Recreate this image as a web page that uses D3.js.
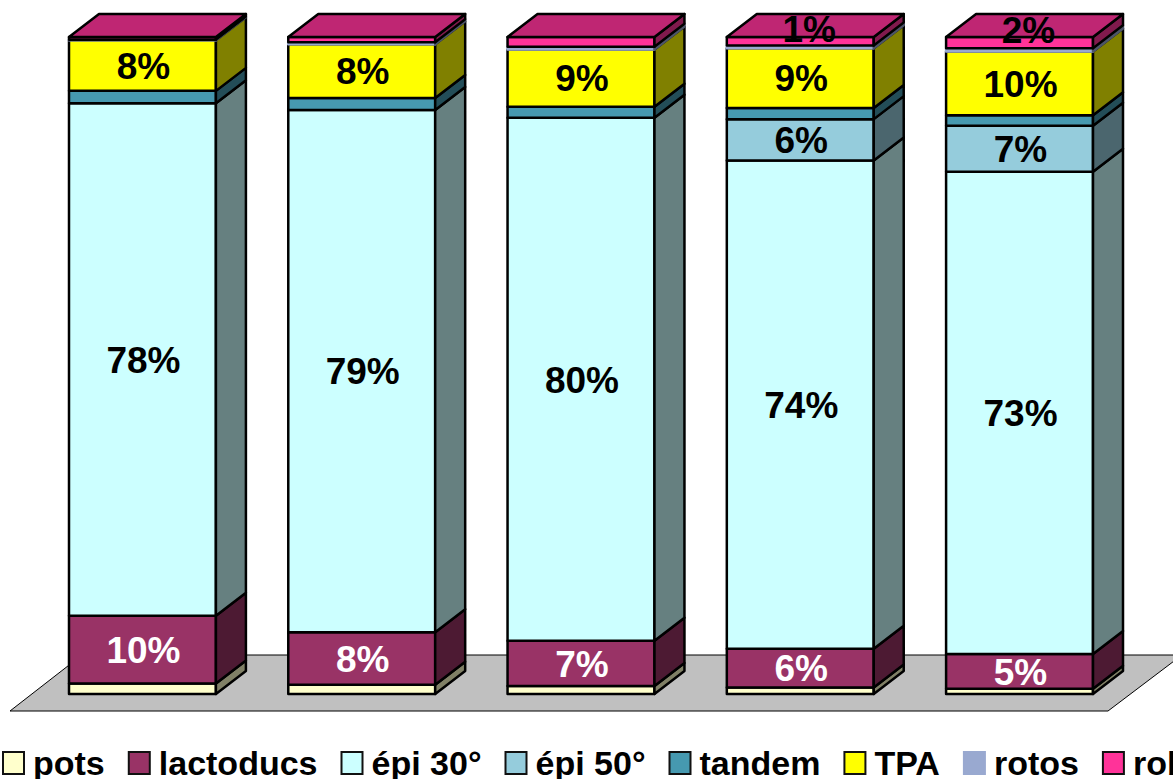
<!DOCTYPE html>
<html>
<head>
<meta charset="utf-8">
<script src="https://cdn.jsdelivr.net/npm/d3@7"></script>
<style>
    html, body { margin: 0; padding: 0; background: #fff; overflow: hidden; }
    text { font-family: "Liberation Sans", Arial, sans-serif; font-weight: bold; }
</style>
</head>
<body>
<div id="chart"></div>
<script>
// Values, in percent, one entry per bar
const categories = ["A", "B", "C", "D", "E"];
const pots = [1.6, 1.4, 1.2, 1.0, 0.8];
const lactoducs = [10.3, 8.0, 6.9, 5.9, 5.3];
const epi30 = [78.0, 79.5, 79.6, 74.3, 73.4];
const epi50 = [0, 0, 0, 6.3, 7.0];
const tandem = [1.9, 1.8, 1.7, 1.7, 1.6];
const tpa = [7.7, 8.2, 8.7, 9.1, 9.7];
const rotos = [0.1, 0.3, 0.4, 0.4, 0.5];
const robots = [0.4, 0.8, 1.5, 1.3, 1.7];

const seriesNames = ["pots", "lactoducs", "épi 30°", "épi 50°", "tandem", "TPA", "rotos", "robots"];
const seriesValues = [pots, lactoducs, epi30, epi50, tandem, tpa, rotos, robots];
const seriesColors = ["#FFFFCC", "#993366", "#CCFFFF", "#95CCDC", "#4699B0", "#FFFF00", "#99A9D0", "#FF3399"];

// Data labels as printed, null where the bar has none
const seriesLabels = [
    [null, null, null, null, null],
    ["10%", "8%", "7%", "6%", "5%"],
    ["78%", "79%", "80%", "74%", "73%"],
    [null, null, null, "6%", "7%"],
    [null, null, null, null, null],
    ["8%", "8%", "9%", "9%", "10%"],
    [null, null, null, null, null],
    [null, null, null, "1%", "2%"]
];

const width = 1173;
const height = 779;
const depthX = 30;
const depthY = -23;
const topIndex = seriesNames.length - 1;
const rotosIndex = seriesNames.indexOf("rotos");

const svg = d3.select("#chart")
    .append("svg")
    .attr("width", width)
    .attr("height", height)
    .style("display", "block");

const xScale = d3.scaleBand()
    .domain(categories)
    .range([69, 1093])
    .paddingInner(0.33);

const yScale = d3.scaleLinear()
    .domain([0, 1])
    .range([694, 37]);

// Turn the series arrays into table rows for d3.stack
const rows = categories.map((c, i) => {
    const row = { category: c };
    seriesNames.forEach((name, s) => { row[name] = seriesValues[s][i]; });
    return row;
});

const stacked = d3.stack()
    .keys(seriesNames)
    .offset(d3.stackOffsetExpand)(rows);

function shade(color, k) {
    const c = d3.rgb(color);
    return d3.rgb(c.r * k, c.g * k, c.b * k).formatHex();
}

// Floor of the 3D chart, runs off the right side of the window
svg.append("polygon")
    .attr("points", "10,711 1108,711 1182,655 82,655")
    .attr("fill", "#C0C0C0")
    .attr("stroke", "#000")
    .attr("stroke-width", 1);

// Bars, bottom segment first so that the upper lines sit on top
categories.forEach((c, i) => {
    const x0 = xScale(c);
    const x1 = x0 + xScale.bandwidth();
    const g = svg.append("g");

    stacked.forEach((layer, s) => {
        if (seriesValues[s][i] === 0) return;
        const yBottom = yScale(layer[i][0]);
        const yTop = yScale(layer[i][1]);
        const color = seriesColors[s];
        const line = s === rotosIndex ? color : "#000";

        g.append("rect")
            .attr("x", x0)
            .attr("y", yTop)
            .attr("width", x1 - x0)
            .attr("height", yBottom - yTop)
            .attr("fill", color)
            .attr("stroke", line)
            .attr("stroke-width", 2.5)
            .attr("stroke-linejoin", "round");

        g.append("polygon")
            .attr("points", [
                [x1, yBottom], [x1 + depthX, yBottom + depthY],
                [x1 + depthX, yTop + depthY], [x1, yTop]
            ].join(" "))
            .attr("fill", shade(color, 0.5))
            .attr("stroke", s === rotosIndex ? shade(color, 0.5) : "#000")
            .attr("stroke-width", 2.5)
            .attr("stroke-linejoin", "round");

        if (s === topIndex) {
            g.append("polygon")
                .attr("points", [
                    [x0, yTop], [x0 + depthX, yTop + depthY],
                    [x1 + depthX, yTop + depthY], [x1, yTop]
                ].join(" "))
                .attr("fill", shade(color, 0.75))
                .attr("stroke", "#000")
                .attr("stroke-width", 2.5)
                .attr("stroke-linejoin", "round");
        }
    });
});

// Data labels, the top series sits up on the lid of the bar
stacked.forEach((layer, s) => {
    categories.forEach((c, i) => {
        const label = seriesLabels[s][i];
        if (!label) return;
        const lifted = s === topIndex;
        svg.append("text")
            .attr("x", xScale(c) + xScale.bandwidth() / 2 + (lifted ? 9 : 1))
            .attr("y", (yScale(layer[i][0]) + yScale(layer[i][1])) / 2 + (lifted ? -13 : 0))
            .attr("dy", "0.36em")
            .attr("text-anchor", "middle")
            .attr("font-size", 37)
            .attr("fill", seriesNames[s] === "lactoducs" ? "#fff" : "#000")
            .text(label);
    });
});

// Legend, laid out left to right and cut by the window edge
let legendX = 2;
seriesNames.forEach((name, s) => {
    svg.append("rect")
        .attr("x", legendX + 1)
        .attr("y", 752)
        .attr("width", 21)
        .attr("height", 22)
        .attr("fill", seriesColors[s])
        .attr("stroke", s === rotosIndex ? seriesColors[s] : "#111")
        .attr("stroke-width", 2);
    const text = svg.append("text")
        .attr("x", legendX + 31)
        .attr("y", 775)
        .attr("font-size", 34)
        .attr("fill", "#000")
        .text(name);
    legendX += 31 + text.node().getComputedTextLength() + 23;
});
</script>
</body>
</html>
